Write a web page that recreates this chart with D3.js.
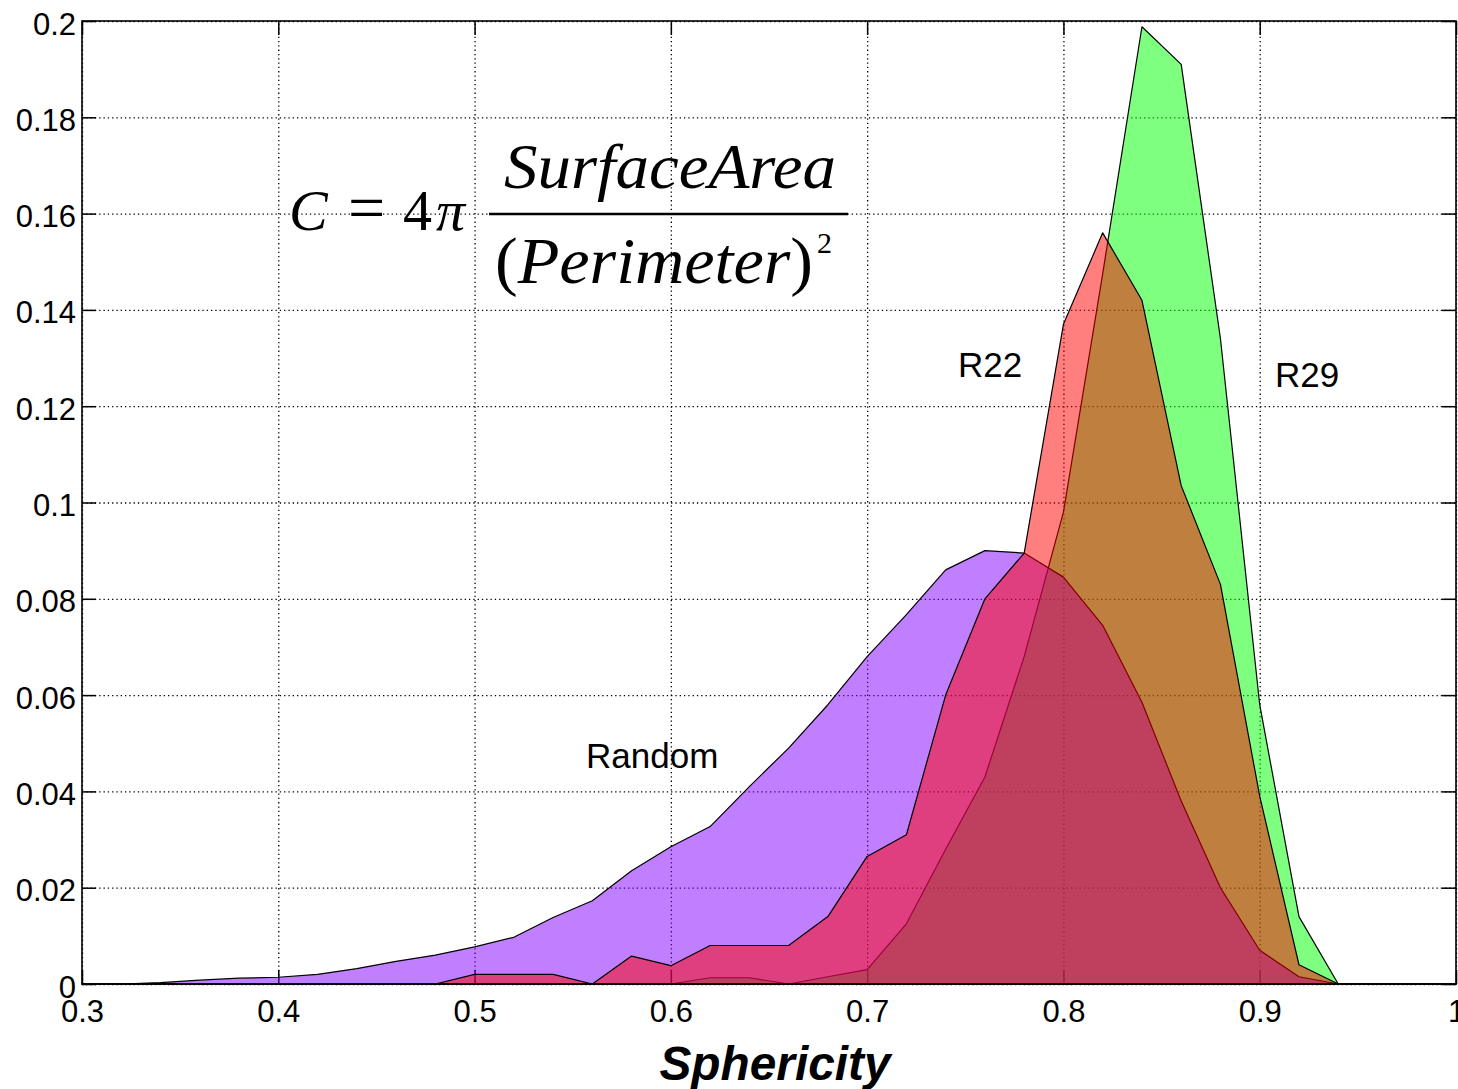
<!DOCTYPE html>
<html>
<head>
<meta charset="utf-8">
<script src="https://cdn.jsdelivr.net/npm/d3@7"></script>
<style>
  body { margin: 0; background: #fff; }
  text { font-family: "Liberation Sans", Arial, sans-serif; }
  .eq text, text.eq { font-family: "Liberation Serif", "Times New Roman", serif; }
</style>
</head>
<body>
<div id="canvas"></div>
<script>
const canvWidth = 1458, canvHeight = 1089;

// bins of sphericity (x) and the three histograms
const sphericity = [0.30, 0.32, 0.34, 0.36, 0.38, 0.40, 0.42, 0.44, 0.46, 0.48,
    0.50, 0.52, 0.54, 0.56, 0.58, 0.60, 0.62, 0.64, 0.66, 0.68,
    0.70, 0.72, 0.74, 0.76, 0.78, 0.80, 0.82, 0.84, 0.86, 0.88,
    0.90, 0.92, 0.94, 0.96, 0.98, 1.00];

const randomFreq = [0, 0, 0.0003, 0.0008, 0.0012, 0.0014, 0.002, 0.0032, 0.0047, 0.006,
    0.0077, 0.0097, 0.0138, 0.0173, 0.0235, 0.0285, 0.0327, 0.041, 0.049, 0.058,
    0.068, 0.0767, 0.086, 0.090, 0.0895, 0.0845, 0.0745, 0.0585, 0.038, 0.020,
    0.007, 0.0015, 0, 0, 0, 0];

const r22Freq = [0, 0, 0, 0, 0, 0, 0, 0, 0, 0,
    0.002, 0.002, 0.002, 0, 0.0058, 0.0038, 0.008, 0.008, 0.008, 0.014,
    0.0265, 0.031, 0.060, 0.080, 0.0895, 0.137, 0.156, 0.142, 0.1035, 0.083,
    0.039, 0.004, 0, 0, 0, 0];

const r29Freq = [0, 0, 0, 0, 0, 0, 0, 0, 0, 0,
    0, 0, 0, 0, 0, 0, 0.0013, 0.0013, 0, 0.0015,
    0.003, 0.0125, 0.028, 0.043, 0.068, 0.098, 0.1475, 0.1988, 0.191, 0.134,
    0.058, 0.014, 0, 0, 0, 0];

const xTicks = [0.3, 0.4, 0.5, 0.6, 0.7, 0.8, 0.9, 1];
const yTicks = [0, 0.02, 0.04, 0.06, 0.08, 0.1, 0.12, 0.14, 0.16, 0.18, 0.2];

// drawing order matters for the 50% overlaps: green, then purple, then red
const series = [
    {name: "R29", values: r29Freq, color: "#00ff00"},
    {name: "Random", values: randomFreq, color: "#8000ff"},
    {name: "R22", values: r22Freq, color: "#ff0000"}
];

const svg = d3.select("#canvas").append("svg")
    .attr("width", canvWidth)
    .attr("height", canvHeight);

const margin = {top: 21, right: 2, bottom: 105, left: 82};
const width = canvWidth - margin.left - margin.right;
const height = canvHeight - margin.top - margin.bottom;

const g = svg.append("g")
    .attr("transform", "translate(" + margin.left + "," + margin.top + ")");

const x = d3.scaleLinear().domain([0.3, 1]).range([0, width]);
const y = d3.scaleLinear().domain([0, 0.2]).range([height, 0]);

const fmt = function (d) { return String(+d.toFixed(2)); };

// dotted grid
g.append("g")
    .attr("class", "grid")
    .attr("transform", "translate(0," + height + ")")
    .call(d3.axisBottom(x).tickValues(xTicks).tickSize(-height).tickFormat(""));
g.append("g")
    .attr("class", "grid")
    .call(d3.axisLeft(y).tickValues(yTicks).tickSize(-width).tickFormat(""));
g.selectAll(".grid .domain").remove();
g.selectAll(".grid line")
    .attr("stroke", "#000")
    .attr("stroke-width", 1.3)
    .attr("stroke-dasharray", "1.3,3");

// inward ticks on all four sides
const tickLen = 14;
g.append("g")
    .attr("class", "ticks")
    .attr("transform", "translate(" + width + ",0)")
    .call(d3.axisRight(y).tickValues(yTicks).tickSize(-tickLen).tickSizeOuter(0).tickFormat(""));
g.append("g")
    .attr("class", "ticks")
    .call(d3.axisTop(x).tickValues(xTicks).tickSize(-tickLen).tickSizeOuter(0).tickFormat(""));

const yAxis = g.append("g")
    .attr("class", "ticks")
    .call(d3.axisLeft(y).tickValues(yTicks).tickSize(-tickLen).tickSizeOuter(0)
        .tickPadding(6).tickFormat(fmt));
yAxis.selectAll("text")
    .attr("font-size", 31)
    .attr("fill", "#000")
    .attr("dy", "0.42em");

const xAxis = g.append("g")
    .attr("class", "ticks")
    .attr("transform", "translate(0," + height + ")")
    .call(d3.axisBottom(x).tickValues(xTicks).tickSize(-tickLen).tickSizeOuter(0)
        .tickPadding(16).tickFormat(fmt));
xAxis.selectAll("text")
    .attr("font-size", 31)
    .attr("fill", "#000")
    .attr("dy", "0.71em");

g.selectAll(".ticks .domain").remove();
g.selectAll(".ticks line").attr("stroke", "#000").attr("stroke-width", 1.5);

// filled histograms
const area = d3.area()
    .x(function (d, i) { return x(sphericity[i]); })
    .y0(y(0))
    .y1(function (d) { return y(d); });

g.selectAll(".hist")
    .data(series)
    .enter().append("path")
    .attr("class", "hist")
    .attr("d", function (d) { return area(d.values) + "Z"; })
    .attr("fill", function (d) { return d.color; })
    .attr("fill-opacity", 0.5)
    .attr("stroke", "#000")
    .attr("stroke-width", 1.2)
    .attr("stroke-linejoin", "round");

// axes box
g.append("rect")
    .attr("width", width)
    .attr("height", height)
    .attr("fill", "none")
    .attr("stroke", "#000")
    .attr("stroke-width", 1.6);

// labels inside the plot
const notes = [
    {text: "R22", x: 958, y: 377},
    {text: "R29", x: 1275, y: 387},
    {text: "Random", x: 586, y: 768}
];
svg.selectAll(".note")
    .data(notes)
    .enter().append("text")
    .attr("class", "note")
    .attr("x", function (d) { return d.x; })
    .attr("y", function (d) { return d.y; })
    .attr("font-size", 35)
    .text(function (d) { return d.text; });

// x label
svg.append("text")
    .attr("x", 775)
    .attr("y", 1080)
    .attr("text-anchor", "middle")
    .attr("font-size", 48)
    .attr("font-weight", "bold")
    .attr("font-style", "italic")
    .attr("textLength", 231)
    .attr("lengthAdjust", "spacingAndGlyphs")
    .text("Sphericity");

// formula
const eq = svg.append("g").attr("class", "eq");
const lhs = eq.append("text").attr("y", 230).attr("font-size", 58);
lhs.append("tspan").attr("x", 289).attr("font-style", "italic").text("C");
lhs.append("tspan").attr("x", 348).attr("font-size", 66).text("=");
lhs.append("tspan").attr("x", 403).text("4");
lhs.append("tspan").attr("x", 436).attr("font-style", "italic").text("π");

eq.append("line")
    .attr("x1", 489).attr("x2", 848)
    .attr("y1", 214).attr("y2", 214)
    .attr("stroke", "#000")
    .attr("stroke-width", 2.5);

eq.append("text")
    .attr("x", 504).attr("y", 188)
    .attr("font-size", 64)
    .attr("font-style", "italic")
    .attr("textLength", 332)
    .attr("lengthAdjust", "spacingAndGlyphs")
    .text("SurfaceArea");

const den = eq.append("text").attr("x", 495).attr("y", 283).attr("font-size", 66)
    .attr("textLength", 318)
    .attr("lengthAdjust", "spacingAndGlyphs");
den.append("tspan").text("(");
den.append("tspan").attr("font-style", "italic").text("Perimeter");
den.append("tspan").text(")");
eq.append("text")
    .attr("x", 817).attr("y", 253)
    .attr("font-size", 30)
    .text("2");
</script>
</body>
</html>
